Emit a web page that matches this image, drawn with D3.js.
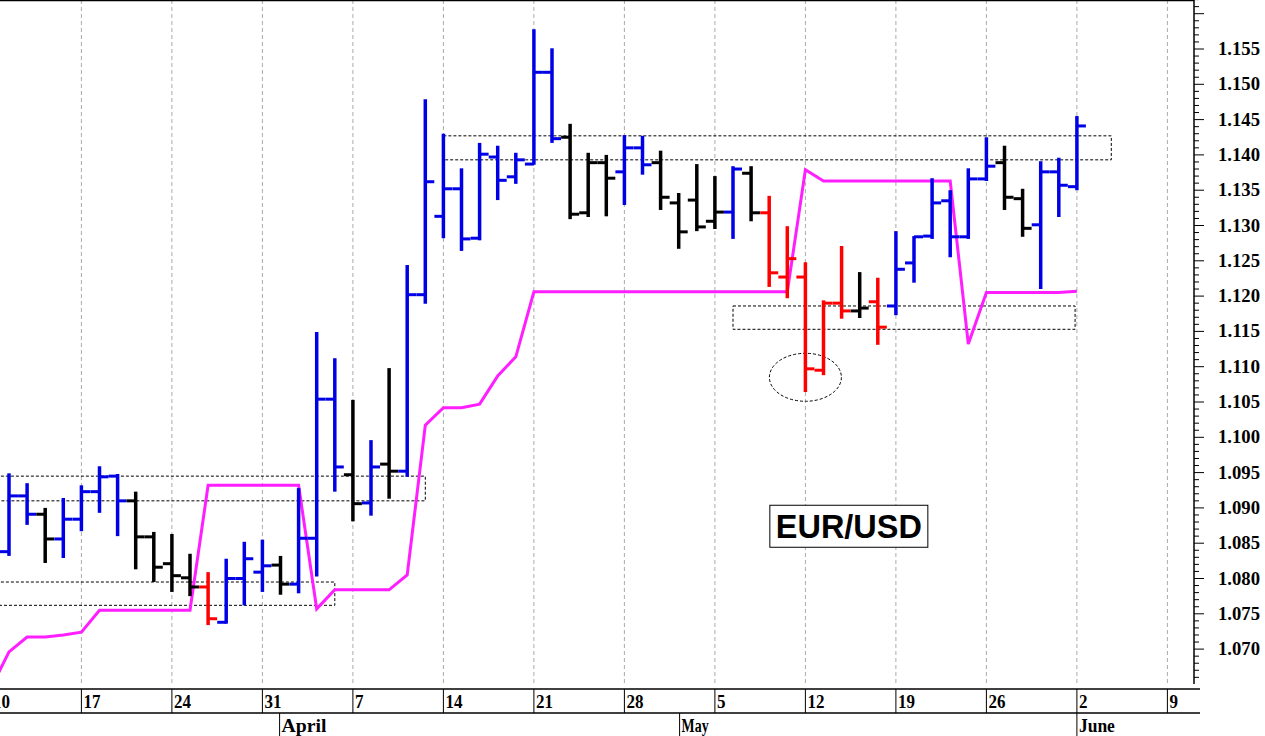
<!DOCTYPE html>
<html><head><meta charset="utf-8">
<script src="https://cdn.jsdelivr.net/npm/d3@7"></script>
<style>body{margin:0;background:#fff}svg{display:block}</style>
</head><body>
<svg id="c" width="1265" height="736"></svg>
<script>
const opens  = [1.0838,1.0917,1.0891,1.0856,1.0884,1.0923,1.0945,1.0910,1.0859,1.0821,1.0801,1.0788,1.0738,1.0800,1.0809,1.0819,1.0792,1.0857,1.1054,1.0947,1.0907,1.0962,1.0952,1.1202,1.1313,1.1352,1.1282,1.1397,1.1369,1.1387,1.1517,1.1425,1.1318,1.1389,1.1376,1.1410,1.1389,1.1332,1.1336,1.1306,1.1319,1.1374,1.1318,1.1227,1.1227,1.1095,1.1190,1.1179,1.1192,1.1186,1.1247,1.1285,1.1335,1.1284,1.1366,1.1389,1.1338,1.1301,1.1376,1.1355];
const highs  = [1.0949,1.0935,1.0900,1.0914,1.0932,1.0959,1.0948,1.0923,1.0866,1.0863,1.0835,1.0809,1.0828,1.0852,1.0855,1.0832,1.0928,1.1149,1.1112,1.1053,1.0996,1.1098,1.1244,1.1479,1.1430,1.1381,1.1417,1.1413,1.1403,1.1578,1.1551,1.1444,1.1403,1.1400,1.1428,1.1427,1.1406,1.1346,1.1387,1.1370,1.1384,1.1384,1.1342,1.1299,1.1248,1.1194,1.1271,1.1234,1.1226,1.1292,1.1285,1.1367,1.1350,1.1381,1.1425,1.1413,1.1352,1.1391,1.1396,1.1455];
const lows   = [1.0832,1.0876,1.0822,1.0829,1.0867,1.0893,1.0860,1.0813,1.0795,1.0781,1.0775,1.0734,1.0736,1.0762,1.0781,1.0777,1.0779,1.0803,1.0923,1.0881,1.0889,1.0913,1.0944,1.1189,1.1282,1.1264,1.1279,1.1336,1.1359,1.1386,1.1417,1.1309,1.1312,1.1313,1.1329,1.1372,1.1322,1.1267,1.1292,1.1295,1.1281,1.1306,1.1213,1.1197,1.1064,1.1088,1.1168,1.1169,1.1131,1.1173,1.1219,1.1281,1.1255,1.1281,1.1363,1.1322,1.1284,1.1210,1.1312,1.1350];
const closes = [1.0917,1.0891,1.0856,1.0884,1.0923,1.0944,1.0910,1.0859,1.0816,1.0804,1.0788,1.0743,1.0800,1.0828,1.0818,1.0792,1.0857,1.1054,1.0958,1.0906,1.0958,1.0952,1.1202,1.1362,1.1352,1.1281,1.1401,1.1364,1.1393,1.1517,1.1423,1.1316,1.1389,1.1367,1.1410,1.1386,1.1340,1.1291,1.1298,1.1319,1.1380,1.1318,1.1233,1.1253,1.1097,1.1190,1.1179,1.1183,1.1156,1.1238,1.1284,1.1332,1.1284,1.1366,1.1384,1.1340,1.1296,1.1376,1.1357,1.1441];
const barColors = "BBKBBBBKKKKRBBBKBBBKBKBBBBBBBBBKKKBBKKKKBKRRRRRKRBBBBBBKKBBB";
// magenta stop line, starts at index -1
const stopLine = [1.0645,1.0696,1.0717,1.0717,1.0720,1.0724,1.0755,1.0755,1.0755,1.0755,1.0755,1.0755,1.0932,1.0932,1.0932,1.0932,1.0932,1.0932,1.0757,1.0784,1.0784,1.0784,1.0784,1.0805,1.1017,1.1042,1.1042,1.1047,1.1087,1.1114,1.1206,1.1206,1.1206,1.1206,1.1206,1.1206,1.1206,1.1206,1.1206,1.1206,1.1206,1.1206,1.1206,1.1206,1.1206,1.1379,1.1363,1.1363,1.1363,1.1363,1.1363,1.1363,1.1363,1.1363,1.1132,1.1205,1.1205,1.1205,1.1205,1.1205,1.1207];
const dayLabels = [[-1,"10"],[4,"17"],[9,"24"],[14,"31"],[19,"7"],[24,"14"],[29,"21"],[34,"28"],[39,"5"],[44,"12"],[49,"19"],[54,"26"],[59,"2"],[64,"9"]];
const monthLabels = [[14.95,"April"],[37.05,"May"],[59.0,"June"]];
const yTicks = [1.070,1.075,1.080,1.085,1.090,1.095,1.100,1.105,1.110,1.115,1.120,1.125,1.130,1.135,1.140,1.145,1.150,1.155];
// annotation boxes [i0,i1,vTop,vBottom]
const boxes = [[-1,23,1.0945,1.0910],[-1,18,1.0795,1.0762],[24,60.9,1.1427,1.1393],[40.0,58.9,1.1186,1.1153]];
const ellipse = {i:44, v:1.1085};
const title = {i:46.4, v:1.0874, text:"EUR/USD"};

const svg = d3.select("#c");
const R = 1194, B = 684;
const x = d3.scaleLinear().domain([0,59]).range([9,9+18.1*59]);
const y = d3.scaleLinear().domain([1.155,1.070]).range([49,49+0.085*7060]);
const col = {B:"#0000e6",K:"#000",R:"#ff0000"};

svg.append("defs").append("clipPath").attr("id","cp").append("rect").attr("x",0).attr("y",0).attr("width",R).attr("height",B);
const g = svg.append("g").attr("clip-path","url(#cp)");

dayLabels.forEach(([i])=>{
  g.append("line").attr("x1",x(i)).attr("x2",x(i)).attr("y1",0).attr("y2",B)
   .attr("stroke","#aaa").attr("stroke-width",1).attr("stroke-dasharray","4,3");
});

boxes.forEach(([a,b,t,bt])=>{
  g.append("rect").attr("x",x(a)).attr("y",y(t)).attr("width",x(b)-x(a)).attr("height",y(bt)-y(t))
   .attr("fill","none").attr("stroke","#000").attr("stroke-width",1).attr("stroke-dasharray","3,2");
});
g.append("ellipse").attr("cx",x(ellipse.i)).attr("cy",y(ellipse.v)).attr("rx",36).attr("ry",24)
  .attr("fill","none").attr("stroke","#000").attr("stroke-width",1).attr("stroke-dasharray","3,2");

g.append("path").datum(stopLine).attr("fill","none").attr("stroke","#ff1eff").attr("stroke-width",3)
  .attr("d",d3.line().x((d,k)=>x(k-1)).y(d=>y(d)));

const bars = g.selectAll("g.bar").data(opens.map((o,k)=>({k,o,h:highs[k],l:lows[k],c:closes[k],col:col[barColors[k]]})))
  .enter().append("g");
bars.append("line").attr("x1",d=>x(d.k)).attr("x2",d=>x(d.k)).attr("y1",d=>y(d.h)).attr("y2",d=>y(d.l))
  .attr("stroke",d=>d.col).attr("stroke-width",3.5);
bars.append("line").attr("x1",d=>x(d.k)-9).attr("x2",d=>x(d.k)).attr("y1",d=>y(d.o)).attr("y2",d=>y(d.o))
  .attr("stroke",d=>d.col).attr("stroke-width",3);
bars.append("line").attr("x1",d=>x(d.k)).attr("x2",d=>x(d.k)+9).attr("y1",d=>y(d.c)).attr("y2",d=>y(d.c))
  .attr("stroke",d=>d.col).attr("stroke-width",3);

const tg = svg.append("g");
const tt = tg.append("text").attr("x",x(title.i)).attr("y",y(title.v)+12).attr("text-anchor","middle")
  .attr("font-family","Liberation Sans, Arial").attr("font-weight","bold").attr("font-size",34)
  .attr("textLength",146).attr("lengthAdjust","spacingAndGlyphs").text(title.text);
tg.insert("rect","text").attr("x",x(title.i)-79).attr("y",y(title.v)-21).attr("width",158).attr("height",42)
  .attr("fill","#fff").attr("stroke","#000").attr("stroke-width",1);

svg.append("line").attr("x1",0).attr("x2",R).attr("y1",0.5).attr("y2",0.5).attr("stroke","#000").attr("stroke-width",1.5);
svg.append("line").attr("x1",R).attr("x2",R).attr("y1",0).attr("y2",B).attr("stroke","#000").attr("stroke-width",1.5);

const minor = d3.range(1066,1163).map(v=>v/1000);
minor.forEach(v=>{
  const major = Math.round(v*1000)%5===0;
  svg.append("line").attr("x1",R).attr("x2",R+(major?10:5)).attr("y1",y(v)).attr("y2",y(v)).attr("stroke","#000").attr("stroke-width",1);
});
yTicks.forEach(v=>{
  svg.append("text").attr("x",1218).attr("y",y(v)+6).attr("font-family","Liberation Serif, Times New Roman")
    .attr("font-weight","bold").attr("font-size",18).attr("textLength",42).attr("lengthAdjust","spacingAndGlyphs").text(v.toFixed(3));
});

svg.append("line").attr("x1",0).attr("x2",R+6).attr("y1",689).attr("y2",689).attr("stroke","#000").attr("stroke-width",1.5);
svg.append("line").attr("x1",0).attr("x2",R+6).attr("y1",713).attr("y2",713).attr("stroke","#000").attr("stroke-width",1.5);
dayLabels.forEach(([i,t])=>{
  svg.append("line").attr("x1",x(i)).attr("x2",x(i)).attr("y1",689).attr("y2",713).attr("stroke","#000");
  svg.append("text").attr("x",x(i)+2).attr("y",708).attr("font-family","Liberation Serif, Times New Roman")
    .attr("font-weight","bold").attr("font-size",18).attr("textLength",t.length*8.5).attr("lengthAdjust","spacingAndGlyphs").text(t);
});
monthLabels.forEach(([i,t])=>{
  svg.append("line").attr("x1",x(i)).attr("x2",x(i)).attr("y1",713).attr("y2",736).attr("stroke","#000");
  svg.append("text").attr("x",x(i)+2).attr("y",732).attr("font-family","Liberation Serif, Times New Roman")
    .attr("font-weight","bold").attr("font-size",18).attr("textLength",t.length*9).attr("lengthAdjust","spacingAndGlyphs").text(t);
});
</script>
</body></html>
